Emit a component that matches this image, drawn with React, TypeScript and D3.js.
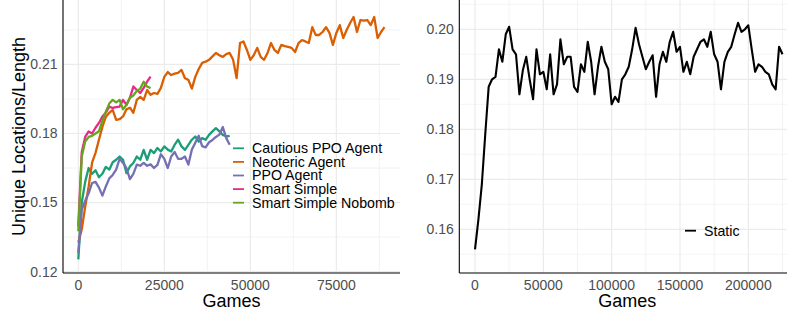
import React from 'react';
import * as d3 from 'd3';

// games between two stored points
const AGENT_STEP = 1000;
const STATIC_STEP = 2500;

const cautiousPPO = [
  0.1253, 0.1500, 0.1590, 0.1650, 0.1625, 0.1640, 0.1610, 0.1625, 0.1655, 0.1643,
  0.1675, 0.1686, 0.1700, 0.1686, 0.1628, 0.1657, 0.1672, 0.1700, 0.1686, 0.1729,
  0.1686, 0.1729, 0.1715, 0.1737, 0.1722, 0.1744, 0.1730, 0.1722, 0.1751, 0.1773,
  0.1744, 0.1729, 0.1751, 0.1773, 0.1787, 0.1765, 0.1780, 0.1773, 0.1794, 0.1809,
  0.1823, 0.1809, 0.1794, 0.1787, 0.1790,
];

const neoteric = [
  0.1326, 0.1383, 0.1482, 0.1569, 0.1673, 0.1716, 0.1773, 0.1829, 0.1872, 0.1890,
  0.1903, 0.1859, 0.1862, 0.1874, 0.1905, 0.1912, 0.1890, 0.1946, 0.1959, 0.1946,
  0.1989, 0.1968, 0.1976, 0.1972, 0.1998, 0.2046, 0.2067, 0.2054, 0.2060, 0.2063,
  0.2076, 0.2040, 0.2033, 0.1995, 0.2046, 0.2080, 0.2107, 0.2112, 0.2120, 0.2135,
  0.2150, 0.2140, 0.2133, 0.2145, 0.2150, 0.2120, 0.2041, 0.2193, 0.2200, 0.2163,
  0.2120, 0.2140, 0.2172, 0.2133, 0.2120, 0.2150, 0.2193, 0.2163, 0.2150, 0.2185,
  0.2180, 0.2176, 0.2172, 0.2154, 0.2193, 0.2206, 0.2200, 0.2193, 0.2262, 0.2228,
  0.2228, 0.2241, 0.2262, 0.2237, 0.2185, 0.2237, 0.2271, 0.2215, 0.2250, 0.2280,
  0.2306, 0.2241, 0.2293, 0.2290, 0.2293, 0.2271, 0.2306, 0.2215, 0.2241, 0.2262,
];

const ppoAgent = [
  0.1282, 0.1470, 0.1508, 0.1540, 0.1585, 0.1590, 0.1565, 0.1530, 0.1570, 0.1605,
  0.1620, 0.1643, 0.1690, 0.1672, 0.1650, 0.1602, 0.1625, 0.1665, 0.1660, 0.1672,
  0.1660, 0.1666, 0.1650, 0.1664, 0.1710, 0.1690, 0.1650, 0.1700, 0.1720, 0.1690,
  0.1690, 0.1700, 0.1665, 0.1730, 0.1760, 0.1790, 0.1745, 0.1740, 0.1762, 0.1772,
  0.1785, 0.1795, 0.1828, 0.1780, 0.1751,
];

const smartSimple = [
  0.1397, 0.1720, 0.1785, 0.1809, 0.1800, 0.1825, 0.1846, 0.1874, 0.1890, 0.1917,
  0.1911, 0.1915, 0.1917, 0.1946, 0.1924, 0.1955, 0.2004, 0.1989, 0.1976, 0.1998,
  0.2025, 0.2047,
];

const smartNobomb = [
  0.1375, 0.1700, 0.1765, 0.1785, 0.1790, 0.1800, 0.1810, 0.1855, 0.1895, 0.1930,
  0.1946, 0.1935, 0.1946, 0.1905, 0.1925, 0.1955, 0.1965, 0.1985, 0.1995, 0.2025,
  0.2004, 0.1997,
];

const staticAgent = [
  0.1560, 0.1620, 0.1690, 0.1790, 0.1885, 0.1900, 0.1905, 0.1960, 0.1935, 0.1990,
  0.2005, 0.1960, 0.1950, 0.1870, 0.1918, 0.1945, 0.1900, 0.1860, 0.1960, 0.1910,
  0.1915, 0.1880, 0.1950, 0.1870, 0.1890, 0.1980, 0.1930, 0.1945, 0.1945, 0.1885,
  0.1875, 0.1930, 0.1915, 0.1975, 0.1935, 0.1870, 0.1925, 0.1965, 0.1935, 0.1920,
  0.1850, 0.1865, 0.1855, 0.1900, 0.1910, 0.1925, 0.1960, 0.2003, 0.1970, 0.1945,
  0.1920, 0.1935, 0.1948, 0.1865, 0.1930, 0.1955, 0.1935, 0.1975, 0.1995, 0.1955,
  0.1965, 0.1915, 0.1935, 0.1910, 0.1945, 0.1960, 0.1975, 0.1980, 0.1965, 0.1995,
  0.1950, 0.1935, 0.1880, 0.1935, 0.1955, 0.1965, 0.1990, 0.2013, 0.1995, 0.2000,
  0.2008, 0.1960, 0.1915, 0.1930, 0.1925, 0.1915, 0.1910, 0.1890, 0.1880, 0.1965,
  0.1950,
];

const agentNames = ['Cautious PPO Agent', 'Neoteric Agent', 'PPO Agent', 'Smart Simple', 'Smart Simple Nobomb'];
const agentColors = ['#1B9E77', '#D95F02', '#7570B3', '#E7298A', '#66A61E'];
const agentValues = [cautiousPPO, neoteric, ppoAgent, smartSimple, smartNobomb];

const leftXTicks = [0, 25000, 50000, 75000];
const leftYTicks = [0.12, 0.15, 0.18, 0.21];
const rightXTicks = [0, 50000, 100000, 150000, 200000];
const rightYTicks = [0.16, 0.17, 0.18, 0.19, 0.2];

const FONT = '"Liberation Sans", Arial, sans-serif';
const gridColor = '#ebebeb';

type Series = { name: string; color: string; values: number[]; step: number };

function minorTicks(major: number[], domain: [number, number]) {
  const half = (major[1] - major[0]) / 2;
  const out: number[] = [];
  for (let t = major[0] - half; t <= domain[1]; t += half * 2) {
    if (t >= domain[0]) out.push(t);
  }
  return out;
}

function Panel(props: {
  id: string;
  left: number; right: number; top: number; bottom: number;
  xDomain: [number, number]; yDomain: [number, number];
  xTicks: number[]; yTicks: number[];
  series: Series[];
  lineWidth: number;
  legendX: number; legendY: number;
  yTitle?: string;
}) {
  const { id, left, right, top, bottom, xDomain, yDomain, xTicks, yTicks, series, lineWidth, legendX, legendY, yTitle } = props;
  const x = d3.scaleLinear().domain(xDomain).range([left, right]);
  const y = d3.scaleLinear().domain(yDomain).range([bottom, top]);
  const fmtY = d3.format('.2f');

  const line = (s: Series) =>
    d3.line<number>()
      .x((d, i) => x(i * s.step))
      .y(d => y(d))(s.values) || '';

  const xMinor = minorTicks(xTicks, xDomain);
  const yMinor = minorTicks(yTicks, yDomain);

  return (
    <g>
      <defs>
        <clipPath id={id}>
          <rect x={left} y={top} width={right - left} height={bottom - top} />
        </clipPath>
      </defs>
      {/* grid */}
      {yMinor.map(t => (
        <line key={'ym' + t} x1={left} x2={right} y1={y(t)} y2={y(t)} stroke={gridColor} strokeWidth={0.6} />
      ))}
      {xMinor.map(t => (
        <line key={'xm' + t} x1={x(t)} x2={x(t)} y1={top} y2={bottom} stroke={gridColor} strokeWidth={0.6} />
      ))}
      {yTicks.map(t => (
        <line key={'yM' + t} x1={left} x2={right} y1={y(t)} y2={y(t)} stroke={gridColor} strokeWidth={1.2} />
      ))}
      {xTicks.map(t => (
        <line key={'xM' + t} x1={x(t)} x2={x(t)} y1={top} y2={bottom} stroke={gridColor} strokeWidth={1.2} />
      ))}

      {/* lines */}
      <g clipPath={`url(#${id})`}>
        {series.map(s => (
          <path key={s.name} d={line(s)} fill="none" stroke={s.color} strokeWidth={lineWidth} strokeLinejoin="round" />
        ))}
      </g>

      {/* axes */}
      <line x1={left} x2={left} y1={top} y2={bottom} stroke="#000" strokeWidth={1.1} />
      <line x1={left} x2={right} y1={bottom} y2={bottom} stroke="#000" strokeWidth={1.1} />

      {yTicks.map(t => (
        <text key={'yl' + t} x={left - 5.5} y={y(t)} dy="0.35em" textAnchor="end"
          fontSize={14} fill="#4d4d4d" fontFamily={FONT}>{fmtY(t)}</text>
      ))}
      {xTicks.map(t => (
        <text key={'xl' + t} x={x(t)} y={290} textAnchor="middle"
          fontSize={14} fill="#4d4d4d" fontFamily={FONT}>{String(t)}</text>
      ))}

      <text x={(left + Math.min(right, 795)) / 2} y={306.5} textAnchor="middle" fontSize={18} fontFamily={FONT} fill="#000">
        Games
      </text>
      {yTitle && (
        <text transform={`translate(25,${(top + bottom) / 2}) rotate(-90)`} textAnchor="middle"
          fontSize={18} fontFamily={FONT} fill="#000">{yTitle}</text>
      )}

      {/* legend */}
      {series.map((s, i) => (
        <g key={'lg' + s.name} transform={`translate(${legendX},${legendY + i * 13.6})`}>
          <line x1={0} x2={11} y1={0} y2={0} stroke={s.color} strokeWidth={1.8} />
          <text x={19} y={0} dy="0.35em" fontSize={14.2} fontFamily={FONT} fill="#000">{s.name}</text>
        </g>
      ))}
    </g>
  );
}

export default function App() {
  const agents: Series[] = agentNames.map((name, i) => ({
    name, color: agentColors[i], values: agentValues[i], step: AGENT_STEP,
  }));
  const statics: Series[] = [{ name: 'Static', color: '#000000', values: staticAgent, step: STATIC_STEP }];

  return (
    <svg width={787} height={315} style={{ position: 'absolute', left: 0, top: 0, background: '#fff' }}>
      <rect width={787} height={315} fill="#fff" />
      <Panel id="clipLeft" left={63} right={400} top={0} bottom={273}
        xDomain={[-4450, 93500]} yDomain={[0.1194, 0.238]}
        xTicks={leftXTicks} yTicks={leftYTicks} series={agents} lineWidth={2.3}
        legendX={233} legendY={148.3} yTitle="Unique Locations/Length" />
      <Panel id="clipRight" left={459.3} right={797} top={0} bottom={273}
        xDomain={[-11490, 235620]} yDomain={[0.15126, 0.20586]}
        xTicks={rightXTicks} yTicks={rightYTicks} series={statics} lineWidth={2.1}
        legendX={685} legendY={230.7} />
    </svg>
  );
}
